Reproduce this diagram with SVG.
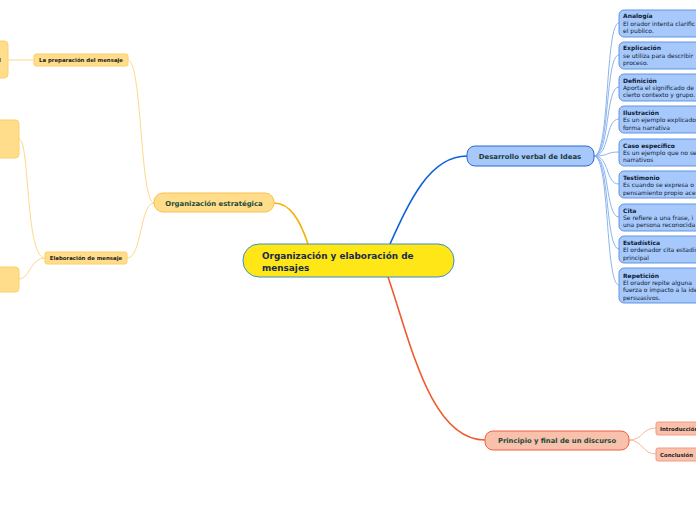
<svg xmlns="http://www.w3.org/2000/svg" width="696" height="520" viewBox="0 0 696 520">
<style>
text{font-family:"DejaVu Sans","Liberation Sans",sans-serif;font-weight:bold}
.c{fill:none}
.bl{fill:#a6c8fa;stroke:#5f95e8;stroke-width:1}
.bt{font-size:6px;fill:#0d1a33}
.bd{font-size:6px;font-weight:normal;fill:#0d1a33}
.yl{fill:#ffdd8a;stroke:#fbd06a;stroke-width:1}
.rd{fill:#f9c0ab;stroke:#f59a80;stroke-width:1}
</style>
<rect width="696" height="520" fill="#fff"/>
<g id="connectors">
<path class="c" stroke="#f5b000" stroke-width="1.6" d="M308,244 C300,220 290,203 274,203"/>
<path class="c" stroke="#1060d8" stroke-width="1.6" d="M390,244 C410,200 430,156 467,156"/>
<path class="c" stroke="#f05a30" stroke-width="1.6" d="M388,277 C410,340 430,440 485,440"/>
<g stroke="#fdd88a" stroke-width="1" fill="none">
<path d="M154,203 C140,203 142,60 128,60"/>
<path d="M154,203 C140,203 142,258 127,258"/>
<path d="M34,60 L8,60"/>
<path d="M45,258 C25,258 30,139 19,139"/>
<path d="M45,258 C30,258 30,279 19,279"/>
</g>
<g stroke="#8ab4f0" stroke-width="1" fill="none">
<path d="M594,156 C610,156 605,23 619,23"/>
<path d="M594,156 C610,156 605,55 619,55"/>
<path d="M594,156 C610,156 605,87 619,87"/>
<path d="M594,156 C610,156 605,119 619,119"/>
<path d="M594,156 C610,156 605,152 619,152"/>
<path d="M594,156 C610,156 605,184 619,184"/>
<path d="M594,156 C610,156 605,217 619,217"/>
<path d="M594,156 C610,156 605,249 619,249"/>
<path d="M594,156 C610,156 605,285 619,285"/>
</g>
<g stroke="#f8b8a0" stroke-width="1" fill="none">
<path d="M629,440 C643,440 642,428 656,428"/>
<path d="M629,440 C643,440 642,454 656,454"/>
</g>
</g>
<g id="central">
<rect x="243" y="244" width="211" height="33" rx="16" fill="#ffe617" stroke="#3a8fc8" stroke-width="1"/>
<text x="262" y="259" font-size="8.9" fill="#1a2a4a">Organización y elaboración de</text>
<text x="262" y="270.5" font-size="8.9" fill="#1a2a4a">mensajes</text>
</g>
<g id="org-estrategica">
<rect x="154" y="193" width="120" height="19" rx="9" fill="#ffdd8a" stroke="#f8c04a" stroke-width="1"/>
<text x="214" y="205.5" font-size="6.9" fill="#1a4a3a" text-anchor="middle">Organización estratégica</text>
</g>
<g id="preparacion">
<rect class="yl" x="34" y="54" width="94" height="12" rx="2"/>
<text x="81" y="62.3" font-size="5.4" fill="#222" text-anchor="middle">La preparación del mensaje</text>
</g>
<g id="elaboracion">
<rect class="yl" x="45" y="252" width="82" height="12" rx="2"/>
<text x="86" y="260.3" font-size="5.4" fill="#222" text-anchor="middle">Elaboración de mensaje</text>
</g>
<g id="left1">
<rect class="yl" x="-10" y="41" width="18" height="37" rx="4"/>
<text x="-1" y="62" font-size="5.4" fill="#222">l</text>
</g>
<g id="left2"><rect class="yl" x="-10" y="120" width="29" height="38" rx="4"/></g>
<g id="left3"><rect class="yl" x="-10" y="267" width="29" height="25" rx="4"/></g>
<g id="desarrollo">
<rect x="467" y="146" width="127" height="20" rx="8" fill="#a6c8fa" stroke="#2a6ad0" stroke-width="1"/>
<text x="530" y="158.5" font-size="6.9" fill="#1a3a3a" text-anchor="middle">Desarrollo verbal de Ideas</text>
</g>
<g id="analogia"><rect class="bl" x="619" y="10" width="90" height="27" rx="5"/>
<text class="bt" x="623" y="18">Analogía</text><text class="bd" x="623" y="26">El orador intenta clarific</text><text class="bd" x="623" y="33">el publico.</text></g>
<g id="explicacion"><rect class="bl" x="619" y="42" width="90" height="27" rx="5"/>
<text class="bt" x="623" y="50">Explicación</text><text class="bd" x="623" y="58">se utiliza para describir</text><text class="bd" x="623" y="65">proceso.</text></g>
<g id="definicion"><rect class="bl" x="619" y="74" width="90" height="27" rx="5"/>
<text class="bt" x="623" y="83">Definición</text><text class="bd" x="623" y="90">Aporta el significado de</text><text class="bd" x="623" y="97">cierto contexto y grupo.</text></g>
<g id="ilustracion"><rect class="bl" x="619" y="106" width="90" height="27" rx="5"/>
<text class="bt" x="623" y="115">Ilustración</text><text class="bd" x="623" y="122">Es un ejemplo explicado</text><text class="bd" x="623" y="130">forma narrativa</text></g>
<g id="caso"><rect class="bl" x="619" y="139" width="90" height="27" rx="5"/>
<text class="bt" x="623" y="148">Caso específico</text><text class="bd" x="623" y="155">Es un ejemplo que no se</text><text class="bd" x="623" y="162">narrativos</text></g>
<g id="testimonio"><rect class="bl" x="619" y="171" width="90" height="27" rx="5"/>
<text class="bt" x="623" y="180">Testimonio</text><text class="bd" x="623" y="187">Es cuando se expresa o</text><text class="bd" x="623" y="195">pensamiento propio ace</text></g>
<g id="cita"><rect class="bl" x="619" y="204" width="90" height="27" rx="5"/>
<text class="bt" x="623" y="213">Cita</text><text class="bd" x="623" y="220">Se refiere a una frase, i</text><text class="bd" x="623" y="227">una persona reconocida</text></g>
<g id="estadistica"><rect class="bl" x="619" y="236" width="90" height="27" rx="5"/>
<text class="bt" x="623" y="245">Estadística</text><text class="bd" x="623" y="252">El ordenador cita estadís</text><text class="bd" x="623" y="260">principal</text></g>
<g id="repeticion"><rect class="bl" x="619" y="268" width="90" height="35" rx="5"/>
<text class="bt" x="623" y="278">Repetición</text><text class="bd" x="623" y="285">El orador repite alguna</text><text class="bd" x="623" y="292">fuerza o impacto a la ide</text><text class="bd" x="623" y="300">persuasivos.</text></g>
<g id="principio">
<rect x="485" y="431" width="144" height="19" rx="8" fill="#f9c0ab" stroke="#f06040" stroke-width="1"/>
<text x="557" y="443" font-size="6.8" fill="#1a4a3a" text-anchor="middle">Principio y final de un discurso</text>
</g>
<g id="introduccion"><rect class="rd" x="656" y="422" width="60" height="13" rx="2"/>
<text x="660" y="430.8" font-size="5.4" fill="#222">Introducción</text></g>
<g id="conclusion"><rect class="rd" x="656" y="448" width="60" height="13" rx="2"/>
<text x="660" y="456.8" font-size="5.4" fill="#222">Conclusión</text></g>
</svg>
